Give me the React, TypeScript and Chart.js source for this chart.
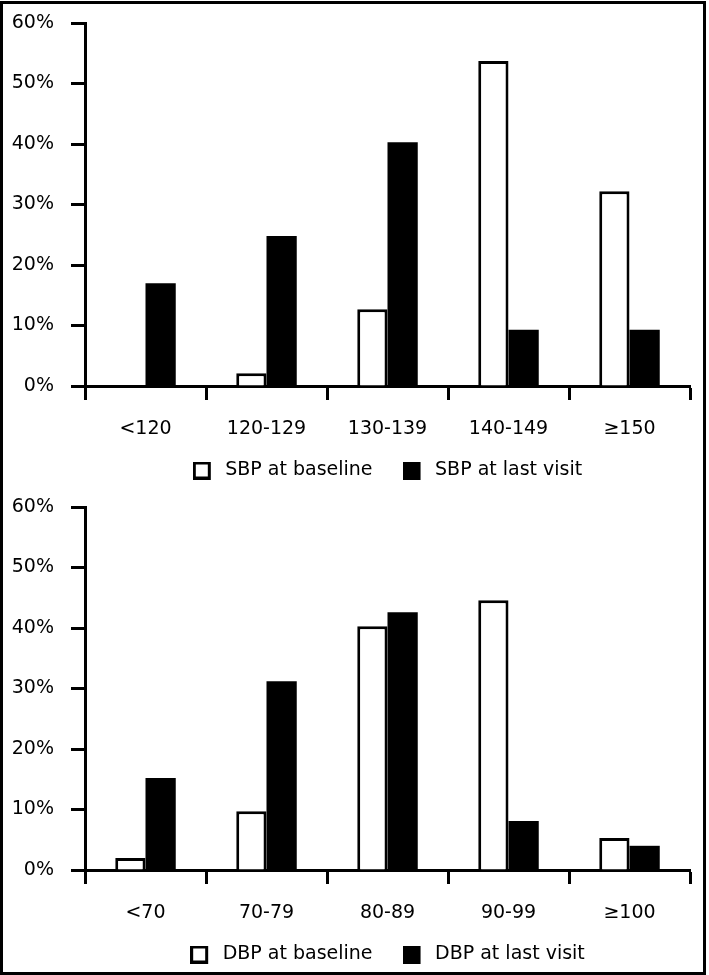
import React, { useEffect, useRef } from 'react';
import { Chart, registerables } from 'chart.js';

Chart.register(...registerables);

const sbpCategories = ['<120', '120-129', '130-139', '140-149', '≥150'];
const sbpBaseline = [0, 2.1, 12.7, 53.7, 32.2];
const sbpLastVisit = [17.0, 24.8, 40.3, 9.3, 9.3];
const sbpLabels = ['SBP at baseline', 'SBP at last visit'];

const dbpCategories = ['<70', '70-79', '80-89', '90-99', '≥100'];
const dbpBaseline = [2.0, 9.7, 40.3, 44.6, 5.3];
const dbpLastVisit = [15.2, 31.2, 42.6, 8.1, 4.0];
const dbpLabels = ['DBP at baseline', 'DBP at last visit'];

const yMin = 0;
const yMax = 60;
const yStep = 10;

const FONT = 'DejaVu Sans';

function makeSwatch(filled: boolean): HTMLCanvasElement {
  const c = document.createElement('canvas');
  c.width = 23;
  c.height = 18;
  const ctx = c.getContext('2d')!;
  ctx.fillStyle = '#000';
  ctx.fillRect(0, 0, 18, 18);
  if (!filled) {
    ctx.fillStyle = '#fff';
    ctx.fillRect(3, 3, 12, 12);
  }
  return c;
}

type PanelProps = {
  categories: string[];
  baseline: number[];
  lastVisit: number[];
  labels: string[];
};

function Panel({ categories, baseline, lastVisit, labels }: PanelProps) {
  const ref = useRef<HTMLCanvasElement | null>(null);

  useEffect(() => {
    if (!ref.current) return;
    const swatches = [makeSwatch(false), makeSwatch(true)];
    const chart = new Chart(ref.current, {
      type: 'bar',
      data: {
        labels: categories,
        datasets: [
          {
            label: labels[0],
            data: baseline,
            backgroundColor: '#fff',
            borderColor: '#000',
            borderWidth: 3,
            categoryPercentage: 0.5,
            barPercentage: 1.0,
          },
          {
            label: labels[1],
            data: lastVisit,
            backgroundColor: '#000',
            borderColor: '#000',
            borderWidth: 0,
            categoryPercentage: 0.5,
            barPercentage: 1.0,
          },
        ],
      },
      options: {
        responsive: false,
        animation: false,
        layout: { padding: { top: 19, right: 13, bottom: -2, left: 0 } },
        font: { family: FONT, size: 19 },
        plugins: {
          tooltip: { enabled: false },
          legend: {
            display: true,
            position: 'bottom',
            fullSize: false,
            labels: {
              color: '#000',
              font: { family: FONT, size: 19 },
              usePointStyle: true,
              pointStyleWidth: 23,
              boxHeight: 18,
              padding: 30,
              generateLabels: (ch: any) => {
                const items = Chart.defaults.plugins.legend.labels.generateLabels(ch);
                return items.map((it: any, i: number) => ({ ...it, pointStyle: swatches[i] }));
              },
            },
          },
        },
        scales: {
          x: {
            offset: true,
            grid: {
              offset: true,
              drawOnChartArea: false,
              drawTicks: true,
              tickLength: 14,
              tickWidth: 3,
              tickColor: '#000',
            },
            border: { display: true, color: '#000', width: 3 },
            ticks: {
              color: '#000',
              font: { family: FONT, size: 19 },
              mirror: true,
              padding: -54,
              maxRotation: 0,
              autoSkip: false,
            },
            afterFit: (scale: any) => {
              scale.height = 45;
            },
          },
          y: {
            min: yMin,
            max: yMax,
            grid: {
              drawOnChartArea: false,
              drawTicks: true,
              tickLength: 14,
              tickWidth: 3,
              tickColor: '#000',
            },
            border: { display: true, color: '#000', width: 3 },
            ticks: {
              stepSize: yStep,
              color: '#000',
              font: { family: FONT, size: 19 },
              padding: 17,
              callback: (v: any) => `${v}%`,
            },
            afterFit: (scale: any) => {
              scale.width = 82;
              scale.paddingTop = 0;
              scale.paddingBottom = 0;
            },
          },
        },
      } as any,
    });
    return () => chart.destroy();
  }, [categories, baseline, lastVisit, labels]);

  return <canvas ref={ref} width={700} height={484} style={{ display: 'block' }} />;
}

export default function App() {
  return (
    <div
      style={{
        position: 'absolute',
        left: 0,
        top: 1,
        width: 706,
        height: 974,
        boxSizing: 'border-box',
        border: '3px solid #000',
        background: '#fff',
      }}
    >
      <Panel categories={sbpCategories} baseline={sbpBaseline} lastVisit={sbpLastVisit} labels={sbpLabels} />
      <Panel categories={dbpCategories} baseline={dbpBaseline} lastVisit={dbpLastVisit} labels={dbpLabels} />
    </div>
  );
}
